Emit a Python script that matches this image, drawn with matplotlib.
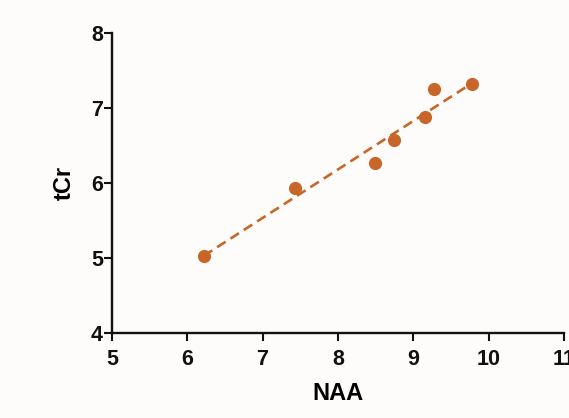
import numpy as np
import matplotlib
matplotlib.use("Agg")
import matplotlib.pyplot as plt

# NAA vs tCr measurements
naa = [6.22, 7.43, 8.49, 8.75, 9.15, 9.28, 9.78]
tcr = [5.03, 5.94, 6.27, 6.57, 6.88, 7.25, 7.32]

x_ticks = [5, 6, 7, 8, 9, 10, 11]
y_ticks = [4, 5, 6, 7, 8]

color = "#c8662a"
bg = "#fdfcfa"

plt.rcParams["font.family"] = ["Liberation Sans", "DejaVu Sans"]
plt.rcParams["font.weight"] = "bold"

fig = plt.figure(figsize=(5.69, 4.18), dpi=100, facecolor=bg)
ax = fig.add_axes([0.1968, 0.2026, 0.7942, 0.7192], facecolor=bg)

# Least-squares fit across the range of the data
slope, intercept = np.polyfit(naa, tcr, 1)
xf = np.array([min(naa), max(naa)])
ax.plot(xf, slope * xf + intercept, linestyle=(0, (3.8, 2.2)), color=color, lw=1.9, zorder=2)
ax.plot(naa, tcr, "o", color=color, markersize=9.5, markeredgewidth=0, zorder=3)

ax.set_xlim(5, 11)
ax.set_ylim(4, 8)
ax.set_xticks(x_ticks)
ax.set_yticks(y_ticks)

for s in ("top", "right"):
    ax.spines[s].set_visible(False)
for s in ("left", "bottom"):
    ax.spines[s].set_linewidth(1.7)
    ax.spines[s].set_color("#111111")

ax.tick_params(axis="both", direction="out", length=5.5, width=1.5, labelsize=15.5, colors="#111111")
ax.tick_params(axis="x", pad=5.5)
ax.tick_params(axis="y", pad=1)
for lab in ax.get_xticklabels() + ax.get_yticklabels():
    lab.set_fontweight("bold")

ax.set_xlabel("NAA", fontsize=17, fontweight="bold", labelpad=9)
ax.set_ylabel("tCr", fontsize=17, fontweight="bold", labelpad=11)

fig.savefig("out.png", dpi=100, facecolor=bg)
